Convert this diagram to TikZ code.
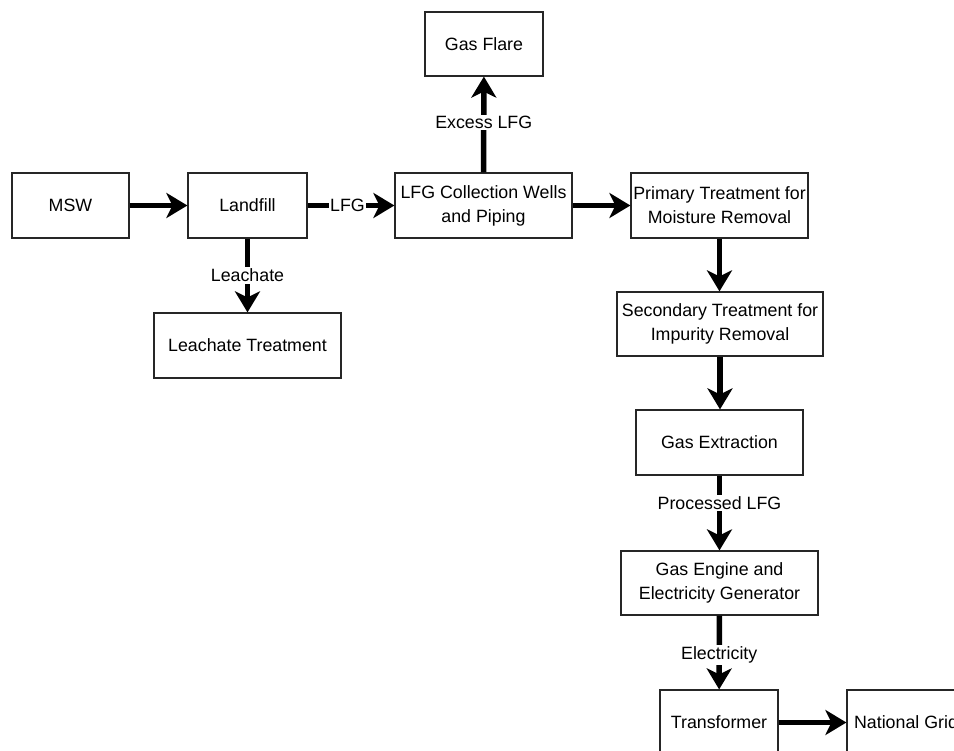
\documentclass[tikz,border=0pt]{standalone}
\usepackage{fontspec}
\setmainfont{Liberation Sans}
\usetikzlibrary{arrows.meta}
\begin{document}
\begin{tikzpicture}[x=1pt,y=-1pt,
  box/.style={draw=black!85, line width=1.2pt, fill=white, inner sep=0pt, align=center,
    font=\fontsize{17.8}{24}\selectfont, minimum height=65pt},
  flow/.style={line width=5.5pt, -{Stealth[length=21pt,width=25pt,inset=6pt]}},
  lbl/.style={fill=white, inner sep=1.5pt, font=\fontsize{17.8}{22}\selectfont}]
\useasboundingbox (0,0) rectangle (954,751);
\node[box, minimum width=117pt] (msw) at (70.5,205.5) {MSW};
\node[box, minimum width=119pt] (land) at (247.5,205.5) {Landfill};
\node[box, minimum width=177pt] (coll) at (483.5,205.5) {LFG Collection Wells\\and Piping};
\node[box, minimum width=118pt, minimum height=64pt] (flare) at (484,44) {Gas Flare};
\node[box, minimum width=177pt] (prim) at (719.5,205.5) {Primary Treatment for\\Moisture Removal};
\node[box, minimum width=206pt, minimum height=64pt] (sec) at (720,324) {Secondary Treatment for\\Impurity Removal};
\node[box, minimum width=167pt] (ext) at (719.5,442.5) {Gas Extraction};
\node[box, minimum width=197pt, minimum height=64pt] (eng) at (719.5,583) {Gas Engine and\\Electricity Generator};
\node[box, minimum width=118pt] (trans) at (719,722.5) {Transformer};
\node[box, minimum width=118pt] (grid) at (906,722.5) {National Grid};
\node[box, minimum width=187pt] (leach) at (247.5,345.5) {Leachate Treatment};

\draw[flow] (msw) -- (land);
\draw[flow] (land) -- node[lbl, pos=0.46] {LFG} (coll);
\draw[flow] (land) -- node[lbl] {Leachate} (leach);
\draw[flow] (coll) -- node[lbl, pos=0.52] {Excess LFG} (flare);
\draw[flow] (coll) -- (prim);
\draw[flow] (prim.south) -- (prim.south |- sec.north);
\draw[flow] (sec.south) -- (sec.south |- ext.north);
\draw[flow] (ext) -- node[lbl, pos=0.37] {Processed LFG} (eng);
\draw[flow] (eng) -- node[lbl, pos=0.53] {Electricity} (trans);
\draw[flow] (trans) -- (grid);
\end{tikzpicture}
\end{document}
